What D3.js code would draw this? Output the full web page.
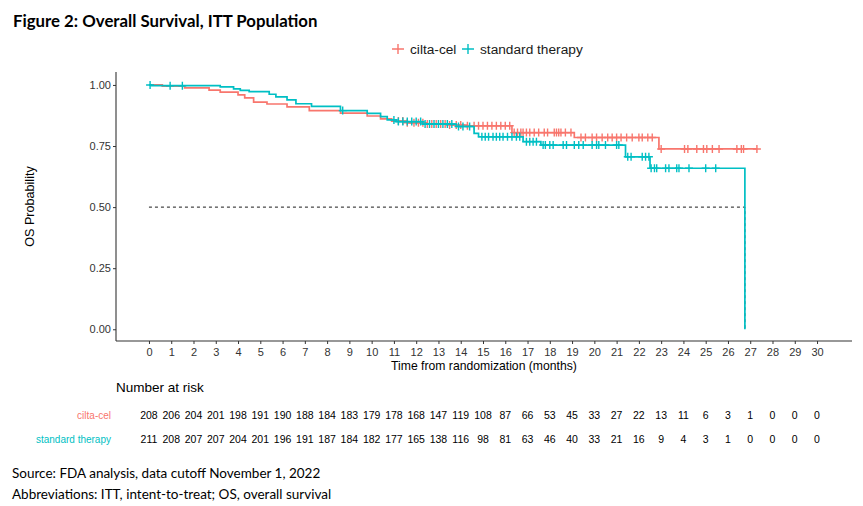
<!DOCTYPE html>
<html>
<head>
<meta charset="utf-8">
<script src="https://cdn.jsdelivr.net/npm/d3@7"></script>
<style>
  body { margin: 0; background: #fff; }
  svg text { font-family: "Liberation Sans", Arial, sans-serif; }
</style>
</head>
<body>
<div id="chart"></div>
<script>
// Kaplan-Meier steps (months, survival)
var ciltaTime = [0, 0.6, 1.6, 2.7, 3.2, 4.0, 4.3, 4.7, 5.3, 6.2, 7.2, 8.6, 9.8, 10.4, 10.9, 11.6, 12.5, 13.5, 14.3, 16.3, 19.1, 22.9, 27.3];
var ciltaSurv = [1.0, 0.995, 0.988, 0.979, 0.971, 0.959, 0.947, 0.930, 0.922, 0.910, 0.895, 0.885, 0.873, 0.861, 0.852, 0.845, 0.840, 0.836, 0.833, 0.805, 0.785, 0.738, 0.738];
var ciltaCensor = [11.2, 11.4, 11.6, 11.9, 12.1, 12.3, 12.5, 12.7, 12.9, 13.1, 13.3, 13.5, 13.8, 14.0, 14.3, 14.6, 14.8, 15.0, 15.2, 15.4, 15.6, 15.8, 16.0, 16.2,
  16.4, 16.55, 16.7, 16.8, 16.95, 17.1, 17.3, 17.5, 17.75, 17.9, 18.2, 18.3, 18.4, 18.5, 18.7, 18.95,
  19.4, 19.6, 19.9, 20.1, 20.35, 20.6, 20.8, 21.0, 21.2, 21.45, 21.7, 22.0, 22.15, 22.4, 22.6,
  23.0, 24.05, 24.2, 24.6, 24.9, 25.05, 25.3, 25.6, 26.4, 26.6, 26.7, 27.3];

var stdTime = [0, 0.1, 3.2, 3.8, 4.1, 4.5, 5.4, 5.7, 6.2, 6.6, 7.3, 8.6, 9.8, 10.4, 10.7, 11.1, 12.3, 13.8, 14.6, 14.8, 16.8, 17.6, 21.4, 22.5, 26.76];
var stdSurv = [1.0, 0.997, 0.992, 0.984, 0.978, 0.973, 0.962, 0.951, 0.939, 0.923, 0.912, 0.895, 0.884, 0.870, 0.857, 0.850, 0.840, 0.830, 0.802, 0.788, 0.768, 0.754, 0.706, 0.659, 0];
var stdCensor = [0.05, 0.95, 1.5, 8.7, 11.0, 11.2, 11.4, 11.6, 11.8, 12.0, 12.2, 12.4, 12.6, 12.8, 13.0, 13.2, 13.4, 13.6, 13.9, 14.1, 14.4,
  14.95, 15.1, 15.25, 15.45, 15.6, 15.75, 15.9, 16.1, 16.3, 16.5, 16.65, 16.95, 17.1, 17.25, 17.4,
  17.7, 17.8, 18.0, 18.15, 18.6, 18.75, 19.1, 19.3, 19.5, 19.9, 20.1, 20.2, 20.5, 21.0, 21.1,
  21.5, 21.65, 22.15, 22.3, 22.45, 22.55, 22.7, 22.8, 23.2, 23.35, 23.7, 23.8, 24.25, 25.0, 25.45];

var medianTime = 26.76;

var months = d3.range(0, 31);
var yTicks = [0, 0.25, 0.5, 0.75, 1.0];
var ciltaRisk = [208, 206, 204, 201, 198, 191, 190, 188, 184, 183, 179, 178, 168, 147, 119, 108, 87, 66, 53, 45, 33, 27, 22, 13, 11, 6, 3, 1, 0, 0, 0];
var stdRisk = [211, 208, 207, 207, 204, 201, 196, 191, 187, 184, 182, 177, 165, 138, 116, 98, 81, 63, 46, 40, 33, 21, 16, 9, 4, 3, 1, 0, 0, 0, 0];

var groups = ["cilta-cel", "standard therapy"];
var colors = ["#F8766D", "#00BFC4"];

// stepwise survival value at time t
function survAt(times, surv, t) {
    var i = d3.bisectRight(times, t) - 1;
    return surv[Math.max(i, 0)];
}

function drawChart() {
    var W = 863, H = 506;
    var svg = d3.select("#chart").append("svg")
        .attr("width", W).attr("height", H);

    var left = 116, right = 852, top = 72, bottom = 341;
    var x = d3.scaleLinear().domain([-1.48, 31.57]).range([left, right]);
    var y = d3.scaleLinear().domain([-0.048, 1.053]).range([bottom, top]);
    var color = d3.scaleOrdinal().domain(groups).range(colors);

    // Title
    svg.append("text")
       .attr("x", 13).attr("y", 27)
       .style("font-family", "Lato, 'Open Sans', sans-serif")
       .style("font-size", "16.8px")
       .style("font-weight", "bold")
       .style("fill", "#000")
       .text("Figure 2: Overall Survival, ITT Population");

    // Legend
    var legend = svg.append("g").attr("transform", "translate(0,49)");
    var legX = [398, 468];
    groups.forEach(function(g, i) {
        legend.append("path")
            .attr("d", `M${legX[i] - 6},0H${legX[i] + 6}M${legX[i]},-5V5`)
            .attr("stroke", color(g)).attr("stroke-width", 1.4);
        legend.append("text")
            .attr("x", legX[i] + 12).attr("y", 5)
            .style("font-size", "13.7px").style("fill", "#1a1a1a")
            .text(g);
    });

    // Axes
    var xAxis = svg.append("g")
       .attr("transform", `translate(0,${bottom})`)
       .call(d3.axisBottom(x).tickValues(months).tickSize(3).tickSizeOuter(0).tickPadding(4));
    var yAxis = svg.append("g")
       .attr("transform", `translate(${left},0)`)
       .call(d3.axisLeft(y).tickValues(yTicks).tickFormat(d3.format(".2f")).tickSize(3).tickSizeOuter(0).tickPadding(2));
    [xAxis, yAxis].forEach(function(a) {
        a.select(".domain").attr("stroke", "#333").attr("stroke-width", 1.1);
        a.selectAll(".tick line").attr("stroke", "#333");
        a.selectAll(".tick text").style("font-size", "11px").style("fill", "#333").style("font-family", "'Liberation Sans', Arial, sans-serif");
    });
    // extend x axis to cover y axis corner
    xAxis.select(".domain").attr("d", `M${left},0H${right}`);
    yAxis.select(".domain").attr("d", `M0,${top}V${bottom}`);

    svg.append("text")
       .attr("x", (left + right) / 2).attr("y", 370)
       .attr("text-anchor", "middle")
       .style("font-size", "12.2px").style("fill", "#000")
       .text("Time from randomization (months)");

    svg.append("text")
       .attr("transform", `translate(34,${(top + bottom) / 2}) rotate(-90)`)
       .attr("text-anchor", "middle")
       .style("font-size", "12.6px").style("fill", "#000")
       .text("OS Probability");

    // Median dashed lines
    svg.append("path")
       .attr("d", `M${x(0)},${y(0.5)}H${x(medianTime)}V${y(0)}`)
       .attr("fill", "none").attr("stroke", "#000")
       .attr("stroke-width", 0.9).attr("stroke-dasharray", "3,3");

    // Survival curves
    var series = [
        { name: groups[0], times: ciltaTime, surv: ciltaSurv, censor: ciltaCensor },
        { name: groups[1], times: stdTime, surv: stdSurv, censor: stdCensor }
    ];
    var line = d3.line().x(d => x(d[0])).y(d => y(d[1])).curve(d3.curveStepAfter);

    series.forEach(function(s) {
        var pts = s.times.map((t, i) => [t, s.surv[i]]);
        svg.append("path")
           .datum(pts)
           .attr("fill", "none")
           .attr("stroke", color(s.name))
           .attr("stroke-width", 1.7)
           .attr("d", line);

        svg.append("g").selectAll("path")
           .data(s.censor)
           .enter().append("path")
           .attr("d", function(t) {
               var cx = x(t), cy = y(survAt(s.times, s.surv, t));
               return `M${cx - 4},${cy}H${cx + 4}M${cx},${cy - 4}V${cy + 4}`;
           })
           .attr("stroke", color(s.name))
           .attr("stroke-width", 1.4);
    });

    // Number at risk table
    svg.append("text")
       .attr("x", 116).attr("y", 392)
       .style("font-size", "13.5px").style("fill", "#000")
       .text("Number at risk");

    var riskRows = [ciltaRisk, stdRisk];
    var rowY = [419, 443];
    riskRows.forEach(function(row, r) {
        svg.append("text")
           .attr("x", 111).attr("y", rowY[r])
           .attr("text-anchor", "end")
           .style("font-size", "10px").style("fill", colors[r])
           .text(groups[r]);
        svg.append("g").selectAll("text")
           .data(row)
           .enter().append("text")
           .attr("x", (d, i) => x(months[i]))
           .attr("y", rowY[r])
           .attr("text-anchor", "middle")
           .style("font-size", "10.5px").style("fill", "#000")
           .text(d => d);
    });

    // Footnotes
    var notes = ["Source: FDA analysis, data cutoff November 1, 2022",
                 "Abbreviations: ITT, intent-to-treat; OS, overall survival"];
    notes.forEach(function(n, i) {
        svg.append("text")
           .attr("x", 12).attr("y", 478 + i * 21)
           .style("font-family", "Lato, 'Open Sans', sans-serif")
           .style("font-size", "13.5px").style("fill", "#000")
           .text(n);
    });
}

drawChart();
</script>
</body>
</html>
